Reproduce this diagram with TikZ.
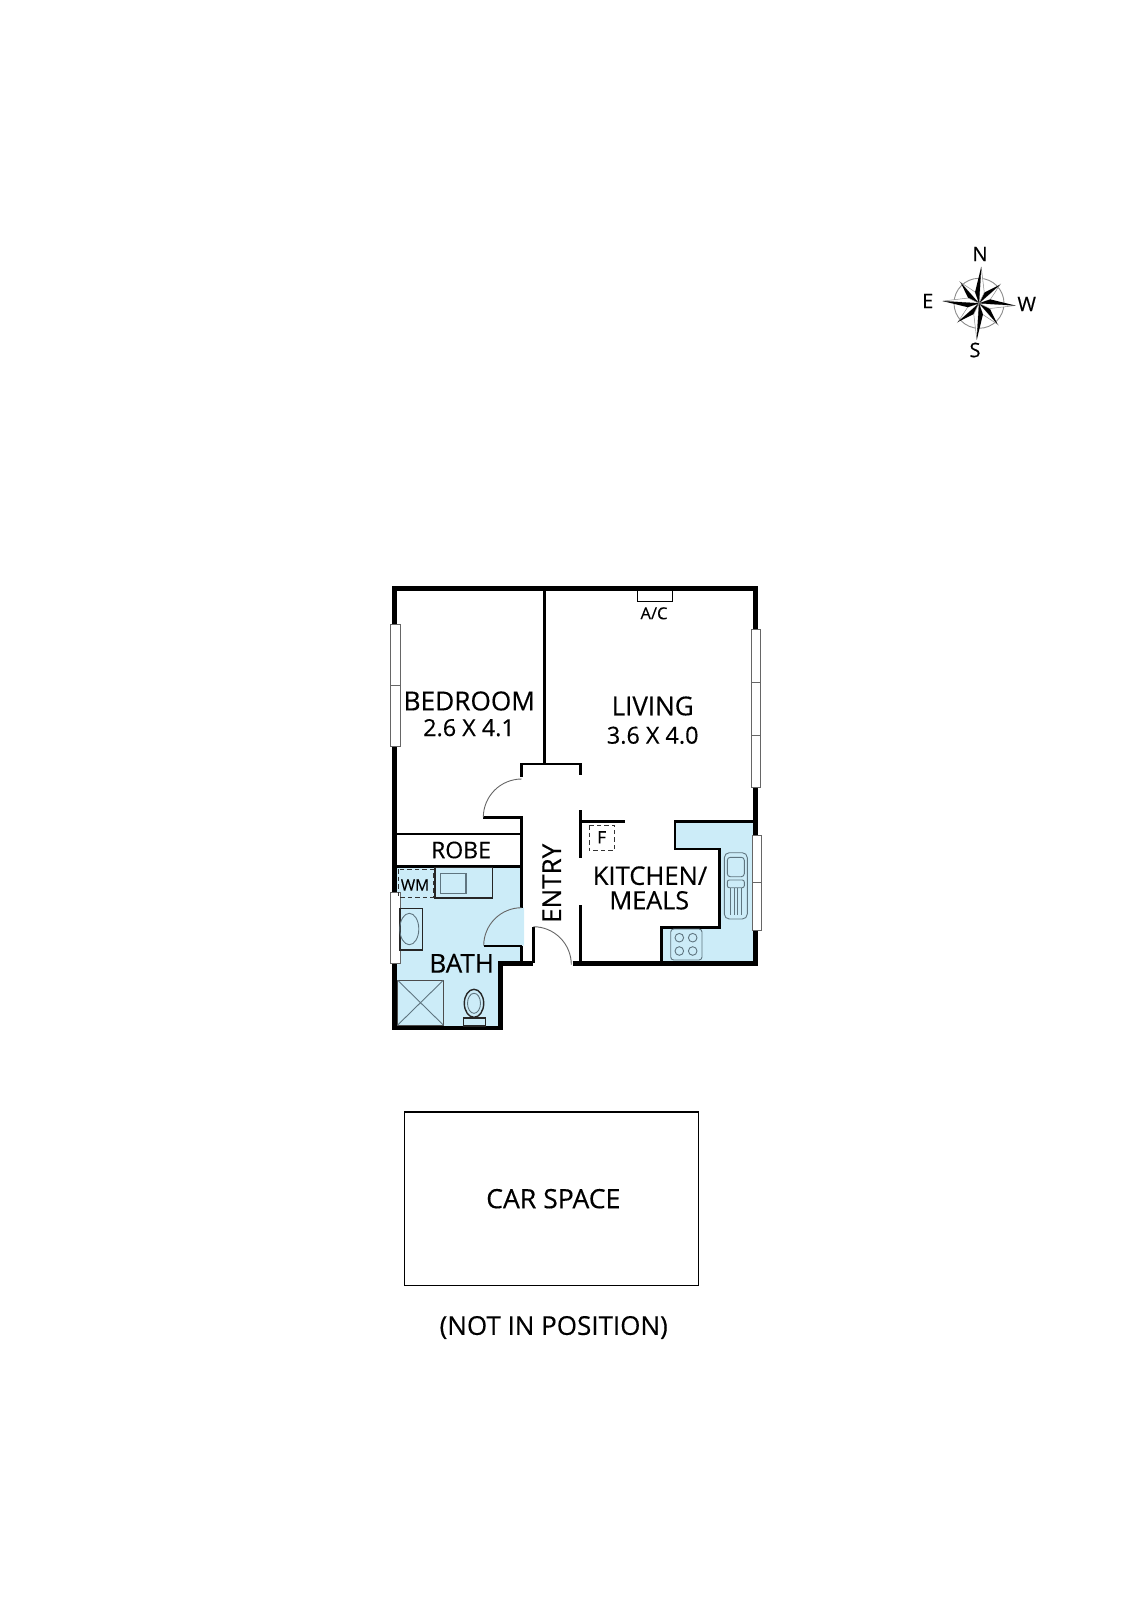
\documentclass[tikz,border=0pt]{standalone}
\usepackage{fontspec}
\setmainfont{Open Sans}[FakeBold=0.35]
\newcommand{\fsz}[1]{\fontsize{#1}{#1}\selectfont}
\definecolor{wetblue}{HTML}{CCECF8}
\definecolor{fixgray}{HTML}{5F7580}
\tikzset{
  wall/.style={draw=black,line width=4.8pt,miter limit=10},
  thinwall/.style={draw=black,line width=2.8pt},
  swing/.style={draw=black!60,line width=0.9pt},
  win/.style={draw=black!60,fill=white,line width=0.9pt},
  winbar/.style={draw=black!60,line width=0.7pt},
  fixt/.style={draw=fixgray,line width=0.9pt},
  fixdark/.style={draw=black!85,line width=1.4pt},
  wetfill/.style={fill=wetblue,draw=none},
  dashbox/.style={draw=black!80,line width=1pt,dash pattern=on 4.5pt off 3pt},
  lab/.style={inner sep=0pt,text=black,align=center},
}
\begin{document}
\begin{tikzpicture}[x=1pt,y=-1pt]
\useasboundingbox (0,0) rectangle (1131,1600);
% wet areas
\fill[wetfill] (394.7,866.7) -- (521.7,866.7) -- (521.7,907.7) -- (524,907.7) -- (524,945.7) -- (521.7,945.7) -- (521.7,963.3) -- (500.3,963.3) -- (500.3,1028) -- (394.7,1028) -- cycle;
\fill[wetfill] (675,821.3) -- (755.7,821.3) -- (755.7,963.3) -- (661.7,963.3) -- (661.7,927.3) -- (719.3,927.3) -- (719.3,849) -- (675,849) -- cycle;
% outer walls
\draw[wall] (572.7,963.3) -- (755.7,963.3) -- (755.7,588.7) -- (394.7,588.7) -- (394.7,1028) -- (500.3,1028) -- (500.3,963.3) -- (533.3,963.3);
% inner walls
\draw[thinwall] (544.3,588.7) -- (544.3,764);
\draw[thinwall] (521.7,777) -- (521.7,764) -- (580.7,764) -- (580.7,775);
\draw[thinwall] (483.3,817.7) -- (521.7,817.7) -- (521.7,907.7);
\draw[thinwall] (521.7,945.7) -- (521.7,963.3);
\draw[thinwall] (533.3,926.7) -- (533.3,963.3);
\draw[draw=black,line width=1.8pt] (396,834.3) -- (521.7,834.3);
\draw[draw=black,line width=2.6pt] (396,866.7) -- (521.7,866.7);
\draw[thinwall] (580.3,810) -- (580.3,858.3);
\draw[thinwall] (580.3,821.3) -- (625,821.3);
\draw[thinwall] (580.3,905) -- (580.3,963.3);
\draw[thinwall] (755.7,821.3) -- (675,821.3) -- (675,849) -- (719.3,849) -- (719.3,927.3) -- (661.7,927.3) -- (661.7,963.3);
% door swings
\draw[swing] (521.7,779) arc[start angle=90,end angle=180,radius=38.4pt];
\draw[swing] (521.7,907.7) arc[start angle=90,end angle=180,radius=38pt];
\draw[thinwall,line width=1.6pt] (483.7,945.7) -- (521.7,945.7);
\draw[swing] (533.3,926.7) arc[start angle=90,end angle=0,radius=38pt];
% windows
\draw[win] (390.3,624.3) rectangle (400,746.7);
\draw[winbar] (390.3,685.3) -- (400,685.3);
\draw[win] (390.7,892.3) rectangle (400,963.7);
\draw[win] (751.7,629.3) rectangle (760.7,787.3);
\draw[winbar] (751.7,682.3) -- (760.7,682.3);
\draw[winbar] (751.7,735) -- (760.7,735);
\draw[win] (752,835.7) rectangle (761,930.7);
\draw[winbar] (752,882.3) -- (761,882.3);
% A/C
\draw[draw=black,line width=0.9pt] (637.3,591) -- (637.3,601.5) -- (672.7,601.5) -- (672.7,591);
% laundry, vanity
\draw[dashbox] (398.3,869.3) rectangle (433.3,897.3);
\draw[fixdark] (435,867.7) rectangle (492.7,898);
\draw[fixt,line width=1.2pt] (440.7,873.7) rectangle (466,893.3);
% bath
\draw[fixdark] (400,908.3) rectangle (422.7,950);
\draw[fixt] (409.3,929) ellipse[x radius=9.5pt,y radius=15.7pt];
% shower
\draw[fixt,draw=black!70] (397.7,980.3) rectangle (443.3,1025);
\draw[fixt] (397.7,980.3) -- (443.3,1025) (443.3,980.3) -- (397.7,1025);
% toilet
\draw[fixdark] (463.3,1018) rectangle (485.3,1026);
\draw[fixdark] (474,1003.3) ellipse[x radius=9.7pt,y radius=14pt];
\draw[fixt] (474,1003.3) ellipse[x radius=6.5pt,y radius=10pt];
% F
\draw[dashbox] (589,825) rectangle (614.3,850.7);
% sink
\draw[fixt,rounded corners=5pt] (724.3,852.7) rectangle (747.3,919);
\draw[fixt,rounded corners=3pt] (727.3,857.3) rectangle (744.3,876.7);
\draw[fixt,rounded corners=2pt] (727.3,880) rectangle (744.3,887.7);
\foreach \vx in {730,734,737.7,741.7}{\draw[fixt,line width=0.7pt] (\vx,888) -- (\vx,915);}
% cooktop
\draw[fixt,rounded corners=3pt] (670.7,929) rectangle (702,960);
\foreach \cx in {679.3,692.7}{\foreach \cy in {937.7,951}{\draw[fixt] (\cx,\cy) circle[radius=4.3pt];}}
% car space
\draw[draw=black,line width=1.3pt] (404.3,1112) rectangle (698.7,1285.3);
% compass
\begin{scope}[shift={(979,303.3)}]
\draw[draw=black!45,line width=0.9pt] (0,0) circle[radius=25pt];
\foreach \a in {41.5,131.5,221.5,311.5}{
  \draw[draw=black!45,fill=white,line width=0.5pt] (0,0) -- (\a:28pt) -- (\a-22.5:12pt) -- cycle;
  \fill[black] (0,0) -- (\a:28pt) -- (\a+22.5:12pt) -- cycle;
}
\foreach \a in {86.5,176.5,266.5,356.5}{
  \draw[draw=black!45,fill=white,line width=0.5pt] (0,0) -- (\a:36.5pt) -- (\a-22.5:12pt) -- cycle;
  \fill[black] (0,0) -- (\a:36.5pt) -- (\a+22.5:12pt) -- cycle;
}
\end{scope}
% labels
\node[lab] (bedroom) at (469.3,701) {\fsz{26.2}BEDROOM};
\node[lab] (beddim) at (469,727.7) {\fsz{23.4}2.6 X 4.1};
\node[lab] (living) at (652.7,706) {\fsz{26}LIVING};
\node[lab] (livdim) at (652.7,735.3) {\fsz{23.4}3.6 X 4.0};
\node[lab] (ac) at (654,613.3) {\fsz{16.5}A/C};
\node[lab] (robe) at (461,850) {\fsz{23}ROBE};
\node[lab] (wm) at (415,885) {\fsz{15.5}WM};
\node[lab] (bath) at (461.7,963.3) {\fsz{26}BATH};
\node[lab,rotate=90] (entry) at (551.7,883.3) {\fsz{26}ENTRY};
\node[lab] (kitchen) at (650,875.7) {\fsz{25.6}KITCHEN/};
\node[lab] (meals) at (649.3,900.3) {\fsz{25.2}MEALS};
\node[lab] (f) at (601.7,837.3) {\fsz{17}F};
\node[lab] (car) at (553.3,1198.7) {\fsz{26.6}CAR SPACE};
\node[lab] (notin) at (553.7,1327.5) {\fsz{26}(NOT IN POSITION)};
\node[lab] (n) at (980,254) {\fsz{20}N};
\node[lab] (e) at (927.7,301) {\fsz{20}E};
\node[lab] (w) at (1026.7,304) {\fsz{20}W};
\node[lab] (s) at (975,350) {\fsz{20}S};
\end{tikzpicture}
\end{document}
